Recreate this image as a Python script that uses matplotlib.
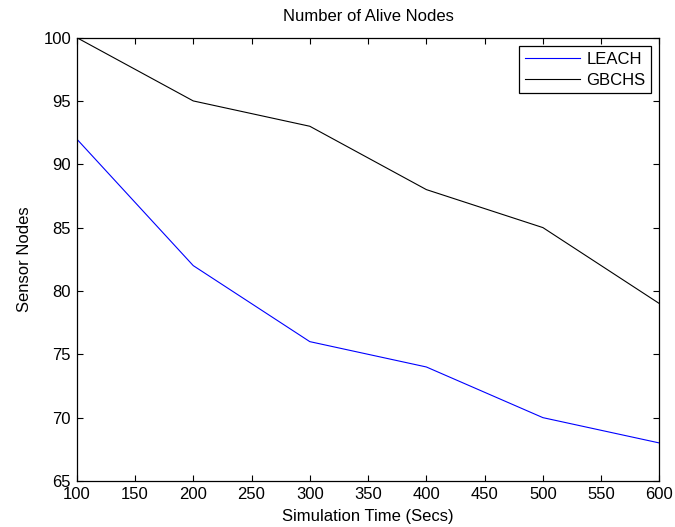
import matplotlib
matplotlib.use('Agg')
import matplotlib.pyplot as plt

time_secs = [100, 200, 300, 400, 500, 600]
leach_nodes = [92, 82, 76, 74, 70, 68]
gbchs_nodes = [100, 95, 93, 88, 85, 79]

plt.rcParams['font.family'] = ['Liberation Sans', 'DejaVu Sans']
plt.rcParams['font.size'] = 12

fig = plt.figure(figsize=(6.75, 5.27), dpi=100)
# axes box: x 77..659, y 38..481 px
ax = fig.add_axes([0.1136, 0.0873, 0.8634, 0.8414])

ax.plot(time_secs, leach_nodes, color='#0000ff', linewidth=0.8, label='LEACH')
ax.plot(time_secs, gbchs_nodes, color='black', linewidth=0.8, label='GBCHS')

ax.set_xlim(100, 600)
ax.set_ylim(65, 100)
ax.set_xticks(range(100, 601, 50))
ax.set_yticks(range(65, 101, 5))
ax.tick_params(direction='in', top=True, right=True, length=4.5, width=0.8, pad=4)
for s in ax.spines.values():
    s.set_linewidth(0.9)

ax.set_title('Number of Alive Nodes', fontsize=12, y=1.0465, va='center', pad=0)
ax.set_xlabel('Simulation Time (Secs)')
ax.set_ylabel('Sensor Nodes')
ax.xaxis.set_label_coords(0.5, -0.079)
ax.xaxis.label.set_verticalalignment('center')
ax.yaxis.set_label_coords(-0.089, 0.5)
ax.yaxis.label.set_verticalalignment('center')

leg = ax.legend(loc='upper right', fancybox=False, edgecolor='black',
                framealpha=1, handlelength=3.3, handletextpad=0.4,
                borderaxespad=0.5, borderpad=0.35, labelspacing=0.35)
leg.get_frame().set_linewidth(0.9)

fig.savefig('out.png', dpi=100)
